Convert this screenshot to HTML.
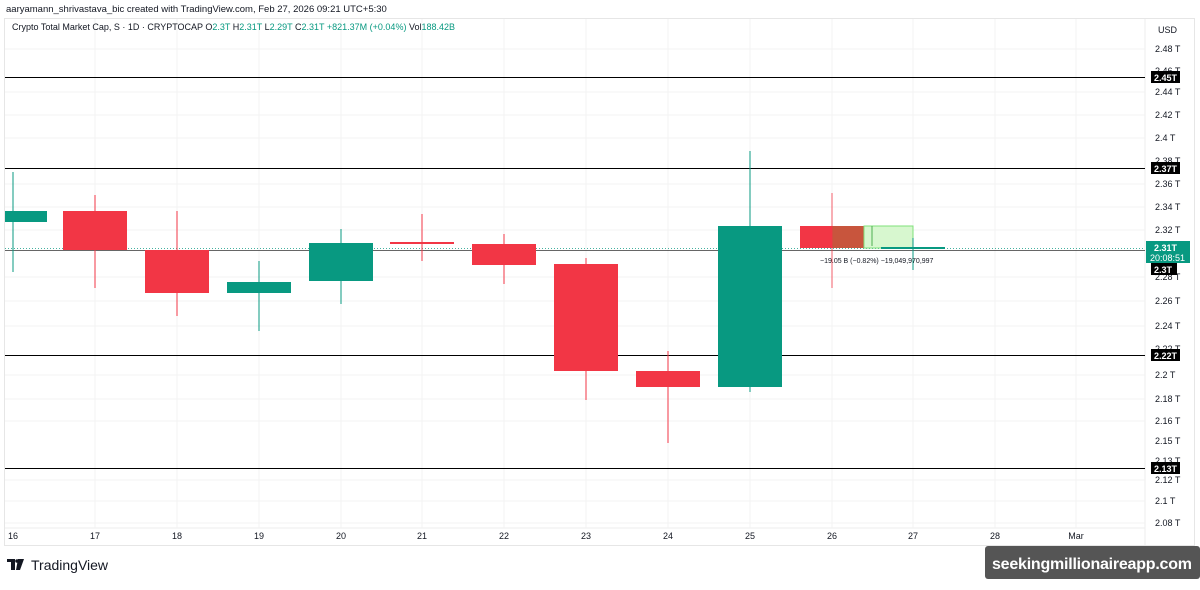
<!DOCTYPE html>
<html><head><meta charset="utf-8"><style>
body{margin:0;width:1200px;height:585px;background:#fff;overflow:hidden;font-family:"Liberation Sans",sans-serif}
</style></head><body>
<svg width="1200" height="585" xmlns="http://www.w3.org/2000/svg" font-family="Liberation Sans, sans-serif">
<rect width="1200" height="585" fill="#fff"/>
<text x="6" y="12" font-size="9.5" fill="#131722">aaryamann_shrivastava_bic created with TradingView.com, Feb 27, 2026 09:21 UTC+5:30</text>
<rect x="4.5" y="18.5" width="1190" height="527" fill="none" stroke="#e6e6e6"/>
<g stroke="#f3f3f3">
<line x1="95" y1="19" x2="95" y2="528"/><line x1="177" y1="19" x2="177" y2="528"/><line x1="259" y1="19" x2="259" y2="528"/><line x1="341" y1="19" x2="341" y2="528"/><line x1="422" y1="19" x2="422" y2="528"/><line x1="504" y1="19" x2="504" y2="528"/><line x1="586" y1="19" x2="586" y2="528"/><line x1="668" y1="19" x2="668" y2="528"/><line x1="750" y1="19" x2="750" y2="528"/><line x1="832" y1="19" x2="832" y2="528"/><line x1="913" y1="19" x2="913" y2="528"/><line x1="995" y1="19" x2="995" y2="528"/><line x1="1076" y1="19" x2="1076" y2="528"/>
<line x1="5" y1="49" x2="1145" y2="49"/><line x1="5" y1="92" x2="1145" y2="92"/><line x1="5" y1="115" x2="1145" y2="115"/><line x1="5" y1="138" x2="1145" y2="138"/><line x1="5" y1="184" x2="1145" y2="184"/><line x1="5" y1="207" x2="1145" y2="207"/><line x1="5" y1="230" x2="1145" y2="230"/><line x1="5" y1="277" x2="1145" y2="277"/><line x1="5" y1="301" x2="1145" y2="301"/><line x1="5" y1="326" x2="1145" y2="326"/><line x1="5" y1="375" x2="1145" y2="375"/><line x1="5" y1="399" x2="1145" y2="399"/><line x1="5" y1="421" x2="1145" y2="421"/><line x1="5" y1="480" x2="1145" y2="480"/><line x1="5" y1="501" x2="1145" y2="501"/><line x1="5" y1="523" x2="1145" y2="523"/>
</g>
<line x1="1145" y1="19" x2="1145" y2="545" stroke="#eee"/>
<line x1="5" y1="528" x2="1145" y2="528" stroke="#eee"/>
<text x="12" y="30" font-size="9" fill="#131722">Crypto Total Market Cap, S · 1D · CRYPTOCAP  <tspan>O</tspan><tspan fill="#089981">2.3T</tspan>  H<tspan fill="#089981">2.31T</tspan>  L<tspan fill="#089981">2.29T</tspan>  C<tspan fill="#089981">2.31T</tspan>  <tspan fill="#089981">+821.37M (+0.04%)</tspan>  Vol<tspan fill="#089981">188.42B</tspan></text>
<g stroke="#000" stroke-width="1">
<line x1="5" y1="77.5" x2="1145" y2="77.5"/><line x1="5" y1="168.5" x2="1145" y2="168.5"/><line x1="5" y1="355.5" x2="1145" y2="355.5"/><line x1="5" y1="468.5" x2="1145" y2="468.5"/>
</g>
<line x1="5" y1="250.5" x2="1145" y2="250.5" stroke="#333" stroke-width="0.8"/>
<line x1="5" y1="248.5" x2="1145" y2="248.5" stroke="#089981" stroke-width="0.8" stroke-dasharray="1,2"/>
<g stroke-width="1">
<line x1="13" y1="172" x2="13" y2="272" stroke="#089981"/><rect x="5" y="211" width="42" height="11" fill="#089981"/>
<line x1="95" y1="195" x2="95" y2="288" stroke="#f23645"/><rect x="63" y="211" width="64" height="39" fill="#f23645"/>
<line x1="177" y1="211" x2="177" y2="316" stroke="#f23645"/><rect x="145" y="250" width="64" height="43" fill="#f23645"/>
<line x1="259" y1="261" x2="259" y2="331" stroke="#089981"/><rect x="227" y="282" width="64" height="11" fill="#089981"/>
<line x1="341" y1="229" x2="341" y2="304" stroke="#089981"/><rect x="309" y="243" width="64" height="38" fill="#089981"/>
<line x1="422" y1="214" x2="422" y2="261" stroke="#f23645"/><rect x="390" y="242" width="64" height="2" fill="#f23645"/>
<line x1="504" y1="234" x2="504" y2="284" stroke="#f23645"/><rect x="472" y="244" width="64" height="21" fill="#f23645"/>
<line x1="586" y1="258" x2="586" y2="400" stroke="#f23645"/><rect x="554" y="264" width="64" height="107" fill="#f23645"/>
<line x1="668" y1="351" x2="668" y2="443" stroke="#f23645"/><rect x="636" y="371" width="64" height="16" fill="#f23645"/>
<line x1="750" y1="151" x2="750" y2="392" stroke="#089981"/><rect x="718" y="226" width="64" height="161" fill="#089981"/>
<rect x="800" y="226" width="64" height="22" fill="#f23645"/>
<rect x="832" y="226" width="32" height="22" fill="#c8553d"/>
<rect x="864" y="226" width="49" height="22" fill="#d7f7cf" stroke="#7fe07a"/>
<line x1="872" y1="226" x2="872" y2="246" stroke="#4caf50"/>
<line x1="832" y1="193" x2="832" y2="288" stroke="#f23645" stroke-width="0.8"/>
<line x1="913" y1="238" x2="913" y2="270" stroke="#089981"/><rect x="881" y="247" width="64" height="2" fill="#089981"/>
</g>
<text x="820" y="263" font-size="7" fill="#131722">−19.05 B (−0.82%) −19,049,970,997</text>
<g font-size="9" fill="#131722">
<text x="1158" y="33">USD</text>
<text x="1155" y="52">2.48 T</text><text x="1155" y="74">2.46 T</text><text x="1155" y="95">2.44 T</text><text x="1155" y="118">2.42 T</text><text x="1155" y="141">2.4 T</text><text x="1155" y="164">2.38 T</text><text x="1155" y="187">2.36 T</text><text x="1155" y="210">2.34 T</text><text x="1155" y="233">2.32 T</text><text x="1155" y="280">2.28 T</text><text x="1155" y="304">2.26 T</text><text x="1155" y="329">2.24 T</text><text x="1155" y="352">2.22 T</text><text x="1155" y="378">2.2 T</text><text x="1155" y="402">2.18 T</text><text x="1155" y="424">2.16 T</text><text x="1155" y="444">2.15 T</text><text x="1155" y="464">2.13 T</text><text x="1155" y="483">2.12 T</text><text x="1155" y="504">2.1 T</text><text x="1155" y="526">2.08 T</text>
</g>
<g font-size="9" font-weight="bold" fill="#fff">
<rect x="1151" y="71" width="29" height="12" fill="#000"/><text x="1154" y="81">2.45T</text>
<rect x="1151" y="162" width="29" height="12" fill="#000"/><text x="1154" y="172">2.37T</text>
<rect x="1151" y="349" width="29" height="12" fill="#000"/><text x="1154" y="359">2.22T</text>
<rect x="1151" y="462" width="29" height="12" fill="#000"/><text x="1154" y="472">2.13T</text>
<rect x="1146" y="241" width="44" height="22" fill="#089981"/><text x="1154" y="251">2.31T</text><text x="1150" y="261" font-weight="normal">20:08:51</text>
<rect x="1151" y="263" width="26" height="12" fill="#000"/><text x="1154" y="273">2.3T</text>
</g>
<g font-size="9" fill="#131722" text-anchor="middle">
<text x="13" y="539">16</text><text x="95" y="539">17</text><text x="177" y="539">18</text><text x="259" y="539">19</text><text x="341" y="539">20</text><text x="422" y="539">21</text><text x="504" y="539">22</text><text x="586" y="539">23</text><text x="668" y="539">24</text><text x="750" y="539">25</text><text x="832" y="539">26</text><text x="913" y="539">27</text><text x="995" y="539">28</text><text x="1076" y="539">Mar</text>
</g>
<g fill="#131722">
<rect x="7" y="559" width="8" height="3"/><rect x="11" y="559" width="4" height="11"/>
<polygon points="18,559 24,559 20,570 16,570"/><circle cx="17" cy="561" r="1.8"/>
</g>
<text x="31" y="570" font-size="14" fill="#131722">TradingView</text>
<rect x="985" y="546" width="215" height="33" rx="3" fill="#555"/>
<text x="1092" y="569" font-size="16" font-weight="bold" fill="#fff" text-anchor="middle" textLength="200">seekingmillionaireapp.com</text>
</svg>
</body></html>
